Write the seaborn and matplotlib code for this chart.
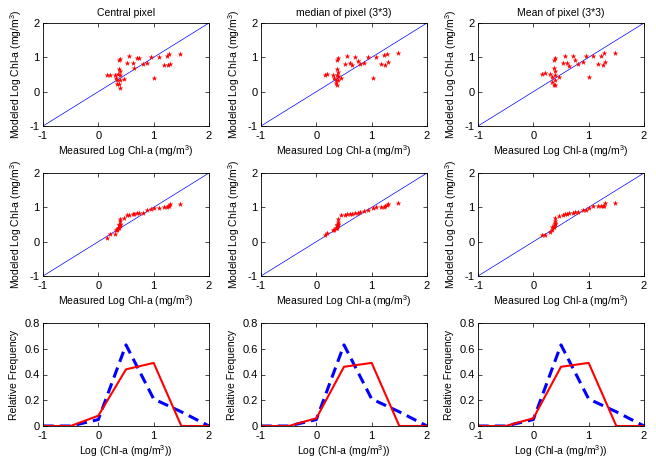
import numpy as np
import pandas as pd
import seaborn as sns
import matplotlib
matplotlib.use("Agg")
import matplotlib.pyplot as plt

# ---------------- data ----------------
titles = ["Central pixel", "median of pixel (3*3)", "Mean of pixel (3*3)"]

meas_central = [0.15, 0.21, 0.30, 0.32, 0.33, 0.34, 0.37, 0.39, 0.37, 0.40, 0.36, 0.40, 0.39, 0.38, 0.40,
                0.46, 0.51, 0.56, 0.62, 0.65, 0.69, 0.74, 0.81, 0.88, 0.95, 1.00, 1.09, 1.18, 1.24, 1.27,
                1.25, 1.30, 1.48]
mod_central = [0.48, 0.48, 0.50, 0.41, 0.33, 0.23, 0.91, 0.96, 0.65, 0.60, 0.52, 0.48, 0.33, 0.21, 0.12,
               0.38, 0.84, 1.03, 0.83, 0.70, 0.98, 0.98, 0.80, 0.84, 1.01, 0.41, 1.01, 0.79, 1.03, 1.11,
               0.77, 0.82, 1.09]

meas_median = [0.16, 0.20, 0.31, 0.32, 0.35, 0.35, 0.38, 0.37, 0.39, 0.38, 0.39, 0.37, 0.39, 0.39, 0.45,
               0.52, 0.55, 0.61, 0.64, 0.70, 0.75, 0.79, 0.87, 0.94, 1.02, 1.08, 1.17, 1.23, 1.27, 1.24,
               1.29, 1.47]
mod_median = [0.50, 0.52, 0.50, 0.41, 0.33, 0.25, 0.18, 0.91, 0.98, 0.65, 0.57, 0.50, 0.45, 0.33, 0.39,
              0.82, 1.03, 0.83, 0.77, 1.01, 0.88, 0.82, 0.83, 1.01, 0.41, 1.01, 0.80, 1.06, 1.11, 0.77,
              0.86, 1.13]

meas_mean = [0.16, 0.21, 0.31, 0.33, 0.34, 0.37, 0.40, 0.37, 0.40, 0.37, 0.40, 0.39, 0.40, 0.46, 0.53,
             0.57, 0.61, 0.65, 0.71, 0.75, 0.81, 0.89, 0.95, 1.01, 1.08, 1.17, 1.23, 1.27, 1.25, 1.29,
             1.48]
mod_mean = [0.51, 0.53, 0.51, 0.42, 0.29, 0.19, 0.19, 0.92, 0.97, 0.68, 0.61, 0.49, 0.34, 0.42, 0.83,
            1.03, 0.83, 0.76, 1.03, 0.91, 0.80, 0.85, 1.03, 0.42, 1.03, 0.80, 1.04, 1.13, 0.78, 0.87,
            1.13]

hist_bins = [-1.0, -0.5, 0.0, 0.5, 1.0, 1.5, 2.0]
freq_measured = [0.0, 0.0, 0.05, 0.63, 0.21, 0.11, 0.0]   # blue dashed (same in all columns)
freq_central = [0.0, 0.0, 0.08, 0.44, 0.49, 0.0, 0.0]
freq_median = [0.0, 0.0, 0.06, 0.46, 0.49, 0.0, 0.0]
freq_mean = [0.0, 0.0, 0.06, 0.46, 0.49, 0.0, 0.0]

one_to_one = [-1.0, 2.0]

scatter_sets = [(meas_central, mod_central), (meas_median, mod_median), (meas_mean, mod_mean)]
freq_sets = [freq_central, freq_median, freq_mean]

# ---------------- style ----------------
sns.set_theme(style="ticks", rc={
    "axes.edgecolor": "black",
    "axes.linewidth": 0.6,
    "xtick.direction": "in",
    "ytick.direction": "in",
    "xtick.top": True,
    "ytick.right": True,
    "xtick.major.size": 3,
    "ytick.major.size": 3,
    "xtick.major.width": 0.5,
    "ytick.major.width": 0.5,
    "xtick.color": "black",
    "ytick.color": "black",
    "text.color": "black",
    "axes.labelcolor": "black",
    "mathtext.default": "regular",
})
plt.rcParams["font.family"] = ["Liberation Sans", "DejaVu Sans"]

fig = plt.figure(figsize=(6.56, 4.59), dpi=100)

lefts = [43 / 656, 261 / 656, 478 / 656]
width = 166 / 656
bottoms = [1 - 126 / 459, 1 - 276 / 459, 1 - 426 / 459]
height = 103 / 459

xlab = r"Measured Log Chl-a (mg/m$^{3}$)"
ylab = r"Modeled Log Chl-a (mg/m$^{3}$)"

for c in range(3):
    mx, my = scatter_sets[c]
    # row 1: scatter
    ax = fig.add_axes([lefts[c], bottoms[0], width, height])
    sns.lineplot(x=one_to_one, y=one_to_one, ax=ax, color="blue", linewidth=0.5)
    sns.scatterplot(x=mx, y=my, ax=ax, marker="*", color="red", s=18, linewidth=0, zorder=3)
    ax.set_title(titles[c], fontsize=7.5, pad=5)
    # row 2: QQ (sorted)
    ax2 = fig.add_axes([lefts[c], bottoms[1], width, height])
    sns.lineplot(x=one_to_one, y=one_to_one, ax=ax2, color="blue", linewidth=0.5)
    sns.scatterplot(x=np.sort(mx), y=np.sort(my), ax=ax2, marker="*", color="red", s=18,
                    linewidth=0, zorder=3)
    for a in (ax, ax2):
        a.set_xlim(-1, 2)
        a.set_ylim(-1, 2)
        a.set_xticks([-1, 0, 1, 2])
        a.set_yticks([-1, 0, 1, 2])
        a.set_xticklabels(["-1", "0", "1", "2"])
        a.set_yticklabels(["-1", "0", "1", "2"])
        a.set_xlabel(xlab, fontsize=7.5, labelpad=2)
        a.set_ylabel(ylab, fontsize=7.5, labelpad=4)
        a.tick_params(axis="x", labelsize=8, pad=3.5)
        a.tick_params(axis="y", labelsize=8, pad=2.5)
    # row 3: frequency
    ax3 = fig.add_axes([lefts[c], bottoms[2], width, height])
    sns.lineplot(x=hist_bins, y=freq_measured, ax=ax3, color="blue", linewidth=2.2,
                 linestyle=(0, (3.5, 2)), sort=False, estimator=None)
    sns.lineplot(x=hist_bins, y=freq_sets[c], ax=ax3, color="red", linewidth=1.5,
                 sort=False, estimator=None)
    ax3.set_xlim(-1, 2)
    ax3.set_ylim(0, 0.8)
    ax3.set_xticks([-1, 0, 1, 2])
    ax3.set_xticklabels(["-1", "0", "1", "2"])
    ax3.set_yticks([0, 0.2, 0.4, 0.6, 0.8])
    ax3.set_yticklabels(["0", "0.2", "0.4", "0.6", "0.8"])
    ax3.set_xlabel(r"Log (Chl-a (mg/m$^{3}$))", fontsize=7.5, labelpad=1.5)
    ax3.set_ylabel("Relative Frequency", fontsize=7.5, labelpad=4)
    ax3.tick_params(axis="x", labelsize=8, pad=3.5)
    ax3.tick_params(axis="y", labelsize=8, pad=2.5)

fig.savefig("out.png", dpi=100)
